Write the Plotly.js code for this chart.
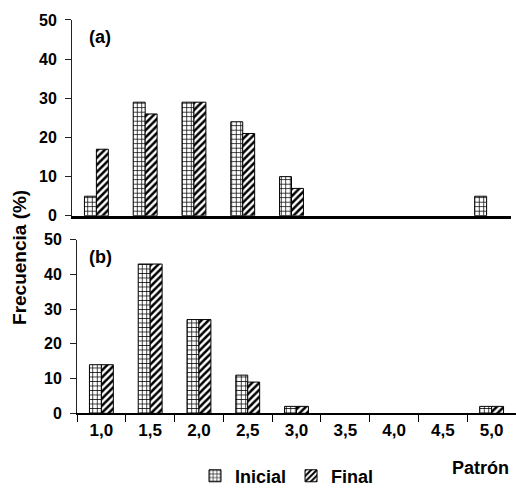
<!DOCTYPE html>
<html>
<head>
<meta charset="utf-8">
<script src="https://cdn.plot.ly/plotly-3.0.1.min.js"></script>
<style>html,body{margin:0;padding:0;background:#fff;}#chart{width:516px;height:495px;}</style>
</head>
<body>
<div id="chart"></div>
<script>
const categories = ["1,0","1,5","2,0","2,5","3,0","3,5","4,0","4,5","5,0"];
const inicialA = [5, 29, 29, 24, 10, 0, 0, 0, 5];
const finalA   = [17, 26, 29, 21, 7, 0, 0, 0, 0];
const inicialB = [14, 43, 27, 11, 2, 0, 0, 0, 2];
const finalB   = [14, 43, 27, 9, 2, 0, 0, 0, 2];
const seriesNames = ["Inicial", "Final"];

const FONT = "Liberation Sans, Arial, sans-serif";
const W = 516, H = 495;
const px = v => v / W;
const py = v => 1 - v / H;

function bar(x, y, name, shape, xa, ya, show) {
  return {
    type: "bar", x: x, y: y.map(v => v === 0 ? null : v), name: name, xaxis: xa, yaxis: ya, showlegend: show,
    legendgroup: name,
    marker: {
      color: "#ffffff",
      line: {color: "#000000", width: 1},
      pattern: {shape: shape, fgcolor: "#000000", bgcolor: "#ffffff",
                size: shape === "+" ? 4.5 : 5, solidity: shape === "+" ? 0.3 : 0.5}
    },
    hoverinfo: "skip"
  };
}

const data = [
  bar(categories, inicialA, seriesNames[0], "+", "x", "y", true),
  bar(categories, finalA, seriesNames[1], "/", "x", "y", true),
  bar(categories, inicialB, seriesNames[0], "+", "x2", "y2", false),
  bar(categories, finalB, seriesNames[1], "/", "x2", "y2", false)
];

const tickFont = {family: FONT, size: 16, color: "#000", weight: "bold"};
const layout = {
  width: W, height: H,
  margin: {l: 0, r: 0, t: 0, b: 0},
  paper_bgcolor: "#fff", plot_bgcolor: "#fff",
  barmode: "group", bargap: 0.51, bargroupgap: 0,
  font: {family: FONT, color: "#000"},
  showlegend: true,
  legend: {orientation: "h", x: px(258 + 29), xanchor: "center", y: py(478), yanchor: "middle",
           font: {family: FONT, size: 18, color: "#000", weight: "bold"}, itemwidth: 30, tracegroupgap: 0},
  xaxis: {
    domain: [px(72), px(511)], anchor: "y", type: "category",
    showticklabels: false, ticks: "", showgrid: false, zeroline: false,
    showline: true, linecolor: "#000", linewidth: 3, automargin: false, fixedrange: true
  },
  yaxis: {
    domain: [py(216.7), py(20)], anchor: "x", range: [0, 50], tickvals: [0,10,20,30,40,50],
    ticks: "outside", ticklen: 6, tickcolor: "#222", tickwidth: 1, ticklabelstandoff: 5,
    showline: true, linecolor: "#222", linewidth: 1, showgrid: false, zeroline: false,
    tickfont: tickFont, automargin: false, fixedrange: true
  },
  xaxis2: {
    domain: [px(77), 1], anchor: "y2", type: "category",
    ticks: "outside", tickson: "boundaries", ticklen: 7, tickcolor: "#000", tickwidth: 1,
    showline: true, linecolor: "#000", linewidth: 2, showgrid: false, zeroline: false,
    tickfont: {family: FONT, size: 17, color: "#000", weight: "bold"}, automargin: false, fixedrange: true
  },
  yaxis2: {
    domain: [py(415), py(240.7)], anchor: "x2", range: [0, 50], tickvals: [0,10,20,30,40,50],
    ticks: "outside", ticklen: 6, tickcolor: "#222", tickwidth: 1, ticklabelstandoff: 5,
    showline: true, linecolor: "#222", linewidth: 1, showgrid: false, zeroline: false,
    tickfont: tickFont, automargin: false, fixedrange: true
  },
  annotations: [
    {text: "(a)", xref: "paper", yref: "paper", x: px(87), y: py(37), xanchor: "left", yanchor: "middle",
     showarrow: false, font: {family: FONT, size: 18, color: "#000", weight: "bold"}},
    {text: "(b)", xref: "paper", yref: "paper", x: px(87), y: py(258), xanchor: "left", yanchor: "middle",
     showarrow: false, font: {family: FONT, size: 18, color: "#000", weight: "bold"}},
    {text: "Patrón", xref: "paper", yref: "paper", x: px(511), y: py(470), xanchor: "right", yanchor: "middle",
     showarrow: false, font: {family: FONT, size: 18, color: "#000", weight: "bold"}},
    {text: "Frecuencia (%)", xref: "paper", yref: "paper", x: px(20), y: py(259), xanchor: "center", yanchor: "middle",
     textangle: -90, showarrow: false, font: {family: FONT, size: 19, color: "#000", weight: "bold"}}
  ]
};

Plotly.newPlot("chart", data, layout, {displayModeBar: false, staticPlot: true});
</script>
</body>
</html>
